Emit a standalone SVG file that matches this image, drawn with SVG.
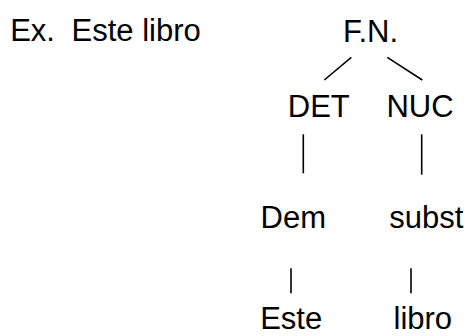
<svg xmlns="http://www.w3.org/2000/svg" width="468" height="336" viewBox="0 0 468 336">
<style>
text{font-family:"Liberation Sans",Arial,sans-serif;font-size:31px;fill:#000}
.c line{stroke:#000;stroke-width:1.6}
</style>
<rect width="468" height="336" fill="#fff"/>
<g id="title"><text x="10.2" y="41">Ex.</text><text x="71.5" y="41">Este libro</text></g>
<g class="c" id="connectors">
<line x1="351.3" y1="57.3" x2="324.3" y2="80"/>
<line x1="387.3" y1="57.3" x2="422.3" y2="80"/>
<line x1="303.3" y1="134.3" x2="303.3" y2="173.3"/>
<line x1="421.7" y1="134.3" x2="421.7" y2="174.7"/>
<line x1="291" y1="268.3" x2="291" y2="293.3"/>
<line x1="411" y1="268.3" x2="411" y2="293.3"/>
</g>
<g id="fn"><text x="370.5" y="41.5" text-anchor="middle">F.N.</text></g>
<g id="det"><text x="318.8" y="117" text-anchor="middle">DET</text></g>
<g id="nuc"><text x="420" y="117" text-anchor="middle">NUC</text></g>
<g id="dem"><text x="293.3" y="227.5" text-anchor="middle">Dem</text></g>
<g id="subst"><text x="426.3" y="227.5" text-anchor="middle">subst</text></g>
<g id="este"><text x="291.2" y="329" text-anchor="middle">Este</text></g>
<g id="libro"><text x="422.8" y="329" text-anchor="middle">libro</text></g>
</svg>
